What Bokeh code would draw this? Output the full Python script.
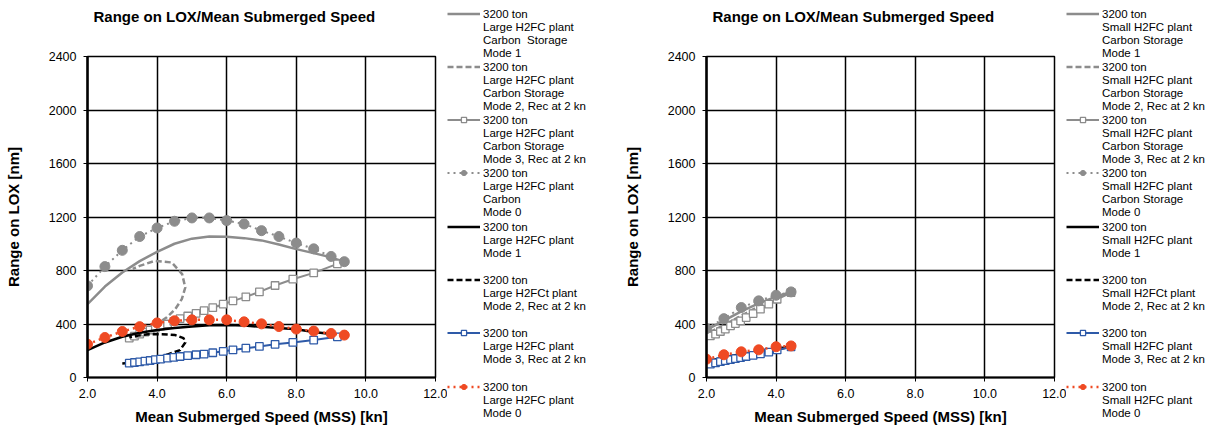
from bokeh.plotting import figure
from bokeh.models import Legend, LegendItem, FixedTicker, NumeralTickFormatter, Range1d, Label
from bokeh.layouts import row, column
from bokeh.embed import file_html
from bokeh.resources import INLINE

FONT = "Liberation Sans"
GRAY = "#8c8c8c"
BLUE = "#2e5aa8"
RED = "#ef4a23"

# ---------------- data: left chart (Large H2FC plant) ----------------
L_cs_m1_x = [2.0, 2.5, 3.0, 3.5, 4.0, 4.5, 5.0, 5.5, 6.0, 6.5, 7.0, 7.5, 8.0, 8.5, 9.0, 9.4]
L_cs_m1_y = [548, 680, 785, 870, 940, 1000, 1038, 1054, 1052, 1042, 1025, 995, 960, 930, 898, 862]

L_cs_m2_x = [3.25, 3.65, 4.0, 4.28, 4.52, 4.71, 4.81, 4.72, 4.42, 3.94, 3.5, 3.3]
L_cs_m2_y = [290, 350, 400, 450, 511, 586, 673, 773, 860, 872, 835, 812]

L_m3_x = [3.2, 3.35, 3.5, 3.65, 3.8, 3.95, 4.1, 4.3, 4.48, 4.66, 4.88, 5.12, 5.35, 5.6, 5.9, 6.18, 6.55, 6.94, 7.39, 7.9, 8.5, 9.18]
L_cs_m3_y = [295, 310, 325, 340, 355, 370, 385, 400, 420, 440, 460, 480, 500, 522, 548, 573, 603, 640, 688, 735, 782, 850]

L_m0_x = [2.0, 2.5, 3.0, 3.5, 4.0, 4.5, 5.0, 5.5, 6.0, 6.5, 7.0, 7.5, 8.0, 8.5, 9.0, 9.38]
L_cs_m0_y = [685, 829, 951, 1054, 1118, 1168, 1193, 1193, 1173, 1148, 1098, 1054, 1005, 962, 905, 866]

L_m1_x = [2.0, 2.5, 3.0, 3.5, 4.0, 4.5, 5.0, 5.5, 6.0, 6.5, 7.0, 7.5, 8.0, 8.5, 9.0, 9.3]
L_m1_y = [205, 262, 305, 335, 355, 370, 382, 390, 392, 388, 379, 370, 360, 340, 325, 318]

L_m2_x = [3.0, 3.4, 3.85, 4.33, 4.66, 4.81, 4.76, 4.52, 4.14, 3.75, 3.46, 3.2]
L_m2_y = [105, 112, 130, 175, 205, 262, 294, 317, 324, 324, 314, 300]

L_m3_y = [107, 112, 117, 122, 127, 133, 138, 145, 151, 157, 164, 170, 175, 185, 196, 206, 219, 232, 248, 262, 280, 304]

L_m0_y = [249, 299, 344, 380, 408, 424, 431, 431, 431, 416, 401, 381, 362, 347, 329, 317]

# ---------------- data: right chart (Small H2FC plant) ----------------
R_cs_m1_x = [2.0, 2.5, 3.0, 3.5, 4.0, 4.45]
R_cs_m1_y = [355, 425, 495, 555, 605, 642]

R_cs_m2_x = [2.1, 2.5, 3.0, 3.5, 4.0, 4.45]
R_cs_m2_y = [340, 392, 462, 532, 592, 640]

R_m3_x = [2.11, 2.26, 2.40, 2.54, 2.69, 2.83, 2.98, 3.14, 3.34, 3.55, 3.79, 4.03, 4.43]
R_cs_m3_y = [311, 324, 344, 361, 386, 403, 423, 448, 478, 511, 548, 585, 635]

R_m0_x = [2.0, 2.5, 3.0, 3.5, 4.0, 4.43]
R_cs_m0_y = [365, 440, 523, 573, 615, 640]

R_m1_x = [2.0, 2.5, 3.0, 3.5, 4.0, 4.45]
R_m1_y = [120, 150, 175, 195, 215, 232]

R_m2_x = [2.1, 2.5, 3.0, 3.5, 4.0, 4.45]
R_m2_y = [100, 125, 158, 185, 210, 230]

R_m3_y = [100, 110, 118, 126, 134, 141, 149, 157, 166, 176, 190, 206, 229]

R_m0_y = [137, 170, 192, 207, 230, 236]

X_TICKS = [2, 4, 6, 8, 10, 12]
Y_TICKS = [0, 400, 800, 1200, 1600, 2000, 2400]

TITLE = "Range on LOX/Mean Submerged Speed"
X_LABEL = "Mean Submerged Speed (MSS) [kn]"
Y_LABEL = "Range on LOX [nm]"

L_LABELS = [
    ["3200 ton", "Large H2FC plant", "Carbon  Storage", "Mode 1"],
    ["3200 ton", "Large H2FC plant", "Carbon Storage", "Mode 2, Rec at 2 kn"],
    ["3200 ton", "Large H2FC plant", "Carbon Storage", "Mode 3, Rec at 2 kn"],
    ["3200 ton", "Large H2FC plant", "Carbon", "Mode 0"],
    ["3200 ton", "Large H2FC plant", "Mode 1"],
    ["3200 ton", "Large H2FCt plant", "Mode 2, Rec at 2 kn"],
    ["3200 ton", "Large H2FC plant", "Mode 3, Rec at 2 kn"],
    ["3200 ton", "Large H2FC plant", "Mode 0"],
]
R_LABELS = [
    ["3200 ton", "Small H2FC plant", "Carbon Storage", "Mode 1"],
    ["3200 ton", "Small H2FC plant", "Carbon Storage", "Mode 2, Rec at 2 kn"],
    ["3200 ton", "Small H2FC plant", "Carbon Storage", "Mode 3, Rec at 2 kn"],
    ["3200 ton", "Small H2FC plant", "Carbon Storage", "Mode 0"],
    ["3200 ton", "Small H2FC plant", "Mode 1"],
    ["3200 ton", "Small H2FCt plant", "Mode 2, Rec at 2 kn"],
    ["3200 ton", "Small H2FC plant", "Mode 3, Rec at 2 kn"],
    ["3200 ton", "Small H2FC plant", "Mode 0"],
]

# series styles in legend order: (line kwargs, marker kwargs or None)
STYLES = [
    (dict(line_color=GRAY, line_width=2.5), None),
    (dict(line_color=GRAY, line_width=2.5, line_dash="6 3"), None),
    (dict(line_color=GRAY, line_width=2),
     dict(marker="square", size=7.5, fill_color="white", line_color=GRAY, line_width=1.3)),
    (dict(line_color=GRAY, line_width=2, line_dash="2 4"),
     dict(marker="circle", size=10, fill_color=GRAY, line_color=GRAY)),
    (dict(line_color="black", line_width=2.5), None),
    (dict(line_color="black", line_width=2.5, line_dash="6 3"), None),
    (dict(line_color=BLUE, line_width=2),
     dict(marker="square", size=7.5, fill_color="white", line_color=BLUE, line_width=1.3)),
    (dict(line_color=RED, line_width=2.5, line_dash="2 4"),
     dict(marker="circle", size=10, fill_color=RED, line_color=RED)),
]

# heights of the per-entry legend strips (px), top strip includes 7 px top border
LEG_H = [60, 53, 53, 54, 53, 53, 54, 48]


def draw_series(p, x, y, style):
    lkw, mkw = style
    rs = [p.line(x, y, **lkw)]
    if mkw is not None:
        rs.append(p.scatter(x, y, **mkw))
    return rs


def make_header(width, left_border, right_border):
    h = figure(width=width, height=30, x_range=Range1d(0, 1), y_range=Range1d(0, 1),
               output_backend="svg", toolbar_location=None, title=None,
               x_axis_location=None, y_axis_location=None,
               min_border_left=left_border, min_border_right=right_border,
               min_border_top=0, min_border_bottom=0)
    h.grid.visible = False
    h.outline_line_color = None
    h.add_layout(Label(x=6, y=14, x_units="screen", y_units="screen", text=TITLE,
                       text_font=FONT, text_font_size="15px", text_font_style="bold",
                       text_baseline="middle", text_color="black"))
    return h


def make_panel(series, width, left_border, right_border):
    p = figure(width=width, height=398, x_range=Range1d(2, 12), y_range=Range1d(0, 2400),
               output_backend="svg", toolbar_location=None, title=None,
               min_border_left=left_border, min_border_right=right_border,
               min_border_top=26, min_border_bottom=51)
    p.xaxis.ticker = FixedTicker(ticks=X_TICKS)
    p.yaxis.ticker = FixedTicker(ticks=Y_TICKS)
    p.xaxis.formatter = NumeralTickFormatter(format="0.0")
    for ax in (p.xaxis, p.yaxis):
        ax.major_label_text_font = FONT
        ax.major_label_text_font_size = "12.5px"
        ax.major_label_text_color = "black"
        ax.axis_label_text_font = FONT
        ax.axis_label_text_font_size = "15px"
        ax.axis_label_text_font_style = "bold"
        ax.axis_label_text_color = "black"
        ax.axis_line_color = "black"
        ax.major_tick_line_color = "black"
        ax.major_tick_in = 0
        ax.major_tick_out = 4
        ax.minor_tick_line_color = None
    p.xaxis.axis_label = X_LABEL
    p.yaxis.axis_label = Y_LABEL
    p.xaxis.axis_line_width = 2
    p.yaxis.axis_line_width = 2.5
    p.xaxis.major_label_standoff = 7
    p.yaxis.major_label_standoff = 7
    p.xaxis.axis_label_standoff = 7
    p.yaxis.axis_label_standoff = 24

    p.grid.grid_line_color = "black"
    p.grid.grid_line_width = 1.5
    p.grid.grid_line_alpha = 1
    p.outline_line_color = "black"
    p.outline_line_width = 1.5

    for (x, y), style in zip(series, STYLES):
        draw_series(p, x, y, style)
    return p


def make_legend_column(labels, width):
    strips = []
    off = [-10, -9]
    for k, (lines, style) in enumerate(zip(labels, STYLES)):
        lf = figure(width=width, height=LEG_H[k], x_range=Range1d(0, 1), y_range=Range1d(0, 1),
                    output_backend="svg", toolbar_location=None, title=None,
                    x_axis_location=None, y_axis_location=None,
                    min_border_left=0, min_border_right=0,
                    min_border_top=7 if k == 0 else 0, min_border_bottom=0)
        lf.grid.visible = False
        lf.outline_line_color = None
        rs = draw_series(lf, off, off, style)
        items = [LegendItem(label=lines[0], renderers=rs)]
        for ln in lines[1:]:
            items.append(LegendItem(label=ln, renderers=[]))
        leg = Legend(items=items, location="top_left")
        leg.padding = 0
        leg.margin = 0
        leg.spacing = 0
        leg.border_line_color = None
        leg.background_fill_alpha = 0
        leg.glyph_width = 33
        leg.glyph_height = 13
        leg.label_height = 13
        leg.label_standoff = 3
        leg.label_text_font = FONT
        leg.label_text_font_size = "11.5px"
        leg.label_text_color = "black"
        lf.add_layout(leg, "center")
        strips.append(lf)
    return column(*strips)


left_series = [(L_cs_m1_x, L_cs_m1_y), (L_cs_m2_x, L_cs_m2_y), (L_m3_x, L_cs_m3_y),
               (L_m0_x, L_cs_m0_y), (L_m1_x, L_m1_y), (L_m2_x, L_m2_y),
               (L_m3_x, L_m3_y), (L_m0_x, L_m0_y)]
right_series = [(R_cs_m1_x, R_cs_m1_y), (R_cs_m2_x, R_cs_m2_y), (R_m3_x, R_cs_m3_y),
                (R_m0_x, R_cs_m0_y), (R_m1_x, R_m1_y), (R_m2_x, R_m2_y),
                (R_m3_x, R_m3_y), (R_m0_x, R_m0_y)]

left_block = column(make_header(447, 87, 12), make_panel(left_series, 447, 87, 12))
left_legend = make_legend_column(L_LABELS, 156)
right_block = column(make_header(463, 103, 12), make_panel(right_series, 463, 103, 12))
right_legend = make_legend_column(R_LABELS, 140)

layout = row(left_block, left_legend, right_block, right_legend)
open("out.html", "w").write(file_html(layout, INLINE))
